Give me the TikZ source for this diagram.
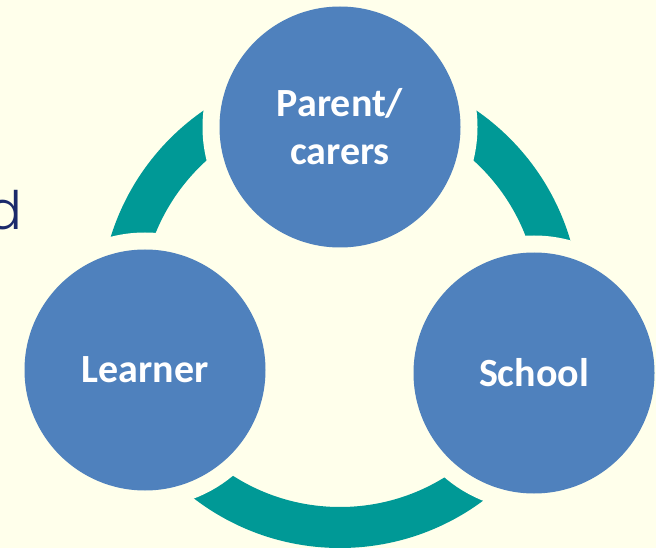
\documentclass[tikz,border=0pt]{standalone}
\usepackage{fontspec}
\setmainfont{Carlito}
\newfontfamily\gothic{Poppins Light}
\definecolor{bgcream}{RGB}{255,255,235}
\definecolor{nodeblue}{RGB}{79,129,189}
\definecolor{ringteal}{RGB}{0,153,150}
\definecolor{wordnavy}{RGB}{27,42,107}
\tikzset{
  blob/.style={circle, minimum size=241pt, inner sep=0pt, fill=nodeblue,
    preaction={draw=bgcream, line width=34pt},
    text=white, font=\bfseries\fontsize{40}{48}\selectfont, align=center}
}
\begin{document}
\begin{tikzpicture}[x=1pt, y=-1pt]
      \fill[bgcream] (0,0) rectangle (656,548);
      \useasboundingbox (0,0) rectangle (656,548);
      \node[anchor=base east, text=wordnavy, font=\gothic\fontsize{53}{60}\selectfont]
        (word) at (26,230) {d};
      \coordinate (hub) at (340,308);
      \draw[ringteal, line width=41pt] (hub) circle (219.5);
      \node[blob] (parent) at (340,127) {Parent/\\carers};
      \node[blob] (learner) at (145,370) {Learner};
      \node[blob] (school) at (534,373) {School};
    \end{tikzpicture}
\end{document}
